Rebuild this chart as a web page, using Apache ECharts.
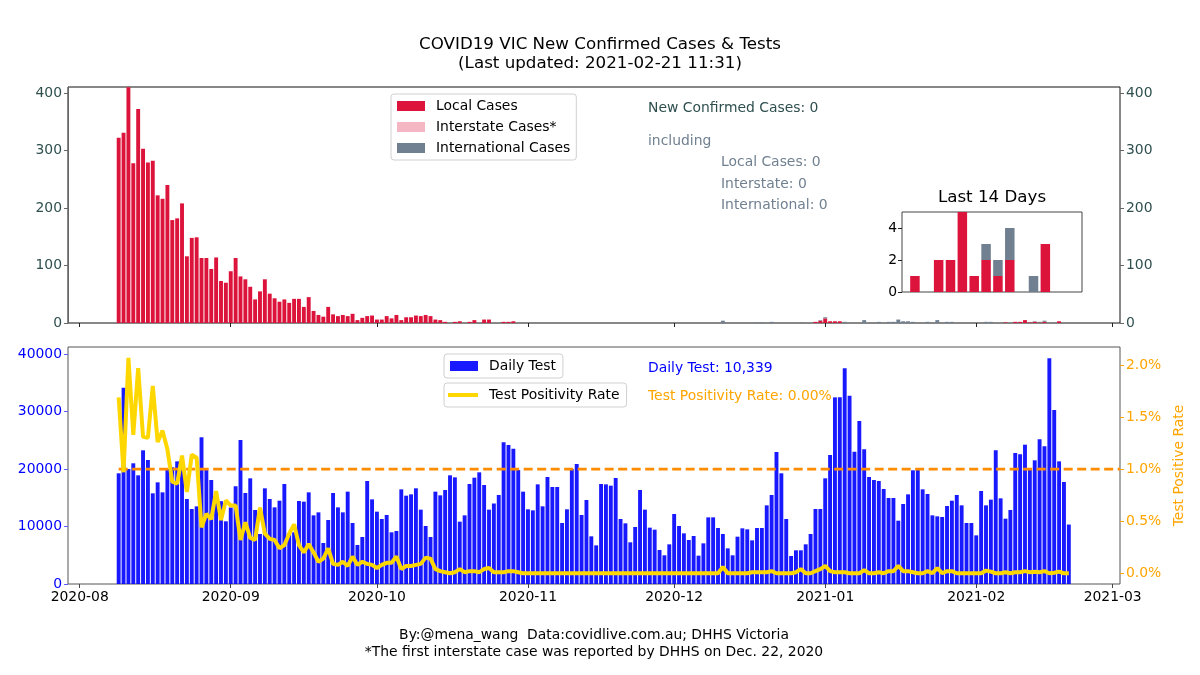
<!DOCTYPE html>
<html>
<head>
<meta charset="utf-8">
<title>COVID19 VIC New Confirmed Cases & Tests</title>
<script src="https://cdn.jsdelivr.net/npm/echarts@6/dist/echarts.min.js"></script>
<style>
  html, body { margin: 0; padding: 0; background: #fff; }
  #main { width: 1200px; height: 675px; }
</style>
</head>
<body>
<div id="main"></div>
<script>
// x 轴用“距 2020-08-01 的天数”，第一根柱子是 2020-08-09
const firstDay = 8
const monthDays = [0, 31, 61, 92, 122, 153, 184, 212]
const monthLabels = ['2020-08', '2020-09', '2020-10', '2020-11', '2020-12', '2021-01', '2021-02', '2021-03']
const caseTicks = [0, 100, 200, 300, 400]
const testTicks = [0, 10000, 20000, 30000, 40000]
const rateTicks = [0, 0.5, 1, 1.5, 2]
const insetTicks = [0, 2, 4]
const positivityThreshold = 1.0

const localCases = [
  322, 331, 410, 278, 372, 303, 279, 282, 222, 216,
  240, 179, 182, 208, 116, 148, 149, 113, 113, 94,
  114, 73, 70, 90, 113, 81, 76, 63, 41, 55,
  76, 51, 43, 37, 41, 35, 42, 42, 28, 45,
  21, 14, 11, 28, 15, 12, 14, 12, 16, 5,
  9, 12, 13, 6, 6, 12, 8, 14, 5, 10,
  10, 13, 12, 14, 12, 6, 5, 2, 0, 2,
  3, 0, 2, 5, 0, 6, 6, 0, 0, 2,
  2, 3, 0, 0, 0, 0, 0, 0, 0, 0,
  0, 0, 0, 0, 0, 0, 0, 0, 0, 0,
  0, 0, 0, 0, 0, 0, 0, 0, 0, 0,
  0, 0, 0, 0, 0, 0, 0, 0, 0, 0,
  0, 0, 0, 0, 0, 0, 0, 0, 0, 0,
  0, 0, 0, 0, 0, 0, 0, 0, 0, 0,
  0, 0, 0, 2, 4, 8, 3, 3, 3, 0,
  0, 0, 0, 0, 0, 0, 0, 0, 0, 0,
  0, 0, 0, 0, 0, 0, 0, 0, 0, 0,
  0, 0, 0, 0, 0, 0, 0, 0, 0, 0,
  0, 0, 1, 0, 2, 2, 5, 1, 2, 1,
  2, 0, 0, 3, 0, 0,
]
const interstateCases = [
  0, 0, 0, 0, 0, 0, 0, 0, 0, 0,
  0, 0, 0, 0, 0, 0, 0, 0, 0, 0,
  0, 0, 0, 0, 0, 0, 0, 0, 0, 0,
  0, 0, 0, 0, 0, 0, 0, 0, 0, 0,
  0, 0, 0, 0, 0, 0, 0, 0, 0, 0,
  0, 0, 0, 0, 0, 0, 0, 0, 0, 0,
  0, 0, 0, 0, 0, 0, 0, 0, 0, 0,
  0, 0, 0, 0, 0, 0, 0, 0, 0, 0,
  0, 0, 0, 0, 0, 0, 0, 0, 0, 0,
  0, 0, 0, 0, 0, 0, 0, 0, 0, 0,
  0, 0, 0, 0, 0, 0, 0, 0, 0, 0,
  0, 0, 0, 0, 0, 0, 0, 0, 0, 0,
  0, 0, 0, 0, 0, 0, 0, 0, 0, 0,
  0, 0, 0, 0, 0, 0, 0, 0, 0, 0,
  0, 0, 0, 0, 0, 0, 0, 0, 0, 0,
  0, 0, 0, 0, 0, 0, 0, 0, 0, 0,
  0, 0, 0, 0, 0, 0, 0, 0, 0, 0,
  0, 0, 0, 0, 0, 0, 0, 0, 0, 0,
  0, 0, 0, 0, 0, 0, 0, 0, 0, 0,
  0, 0, 0, 0, 0, 0,
]
const internationalCases = [
  0, 0, 0, 0, 0, 0, 0, 0, 0, 0,
  0, 0, 0, 0, 0, 0, 0, 0, 0, 0,
  0, 0, 0, 0, 0, 0, 0, 0, 0, 0,
  0, 0, 0, 0, 0, 0, 0, 0, 0, 0,
  0, 0, 0, 0, 0, 0, 0, 0, 0, 0,
  0, 0, 0, 0, 0, 0, 0, 0, 0, 0,
  0, 0, 0, 0, 0, 0, 0, 0, 0, 0,
  0, 0, 0, 0, 0, 0, 0, 0, 0, 0,
  0, 0, 0, 0, 0, 0, 0, 0, 0, 0,
  0, 0, 0, 0, 0, 0, 0, 0, 0, 0,
  0, 0, 0, 0, 0, 0, 0, 0, 0, 0,
  0, 0, 0, 0, 0, 0, 0, 0, 0, 0,
  0, 0, 0, 0, 4, 0, 0, 0, 0, 0,
  0, 1, 1, 0, 2, 0, 0, 0, 0, 0,
  1, 0, 0, 0, 1, 2, 0, 0, 0, 2,
  0, 0, 0, 5, 0, 0, 2, 0, 2, 2,
  6, 3, 3, 2, 0, 0, 2, 0, 5, 0,
  2, 2, 0, 0, 0, 0, 0, 0, 2, 2,
  0, 0, 0, 0, 0, 0, 0, 0, 1, 1,
  2, 0, 1, 0, 0, 0,
]
const dailyTests = [
  19250, 34150, 20000, 20990, 18900, 23250, 21570, 15770, 17680, 15940,
  20000, 20300, 21330, 20700, 14780, 13040, 13500, 25500, 19830, 18090,
  15000, 14400, 10900, 13300, 17000, 25040, 15830, 18380, 12870, 8700,
  16640, 14780, 13330, 14490, 17390, 8800, 9000, 14430, 14320, 15940,
  11940, 12460, 7130, 11130, 15830, 13330, 12460, 16060, 10610, 6780,
  8170, 17910, 14720, 12580, 11300, 12000, 8990, 9220, 16460, 15360,
  15590, 16640, 12930, 10090, 8170, 16060, 15420, 16350, 18900, 18550,
  10840, 11940, 17390, 18490, 19420, 17220, 12930, 14000, 15480, 24640,
  24170, 23540, 19830, 16060, 12990, 12810, 17330, 13510, 18610, 16870,
  16870, 10610, 12990, 20000, 20870, 12000, 14610, 8290, 6720, 17390,
  17330, 17100, 18430, 11300, 10550, 7250, 9910, 16350, 12930, 9800,
  9450, 5910, 4990, 6900, 12170, 10090, 8810, 7650, 8350, 4930,
  7070, 11590, 11590, 9740, 8700, 6200, 4990, 8230, 9680, 9510,
  7590, 9740, 9740, 13680, 15480, 22960, 19250, 11300, 4870, 5860,
  5860, 6900, 8700, 13040, 13040, 18380, 22430, 32460, 32460, 37510,
  32750, 23010, 28350, 23420, 18610, 18090, 17910, 16520, 14960, 14960,
  11010, 13910, 15590, 19770, 20120, 16460, 15650, 11940, 11770, 11650,
  13570, 14490, 15480, 13680, 10610, 10610, 8460, 16170, 13680, 14670,
  23250, 14900, 11360, 12870, 22780, 22550, 24230, 20120, 21510, 25160,
  23940, 39250, 30260, 21330, 17740, 10339,
]
// 检测阳性率 (%)
const positivityRate = [
  1.69, 0.97, 2.07, 1.33, 1.97, 1.31, 1.30, 1.80, 1.26, 1.37,
  1.19, 0.88, 0.86, 1.13, 0.78, 1.14, 1.11, 0.44, 0.57, 0.52,
  0.79, 0.51, 0.70, 0.65, 0.65, 0.32, 0.49, 0.34, 0.32, 0.63,
  0.38, 0.33, 0.32, 0.24, 0.27, 0.38, 0.47, 0.27, 0.20, 0.28,
  0.20, 0.11, 0.14, 0.24, 0.09, 0.08, 0.11, 0.07, 0.16, 0.08,
  0.11, 0.09, 0.08, 0.05, 0.08, 0.10, 0.10, 0.16, 0.04, 0.07,
  0.07, 0.08, 0.09, 0.15, 0.14, 0.04, 0.02, 0.01, 0.00, 0.01,
  0.04, 0.01, 0.02, 0.02, 0.01, 0.04, 0.05, 0.01, 0.01, 0.01,
  0.02, 0.02, 0.01, 0, 0, 0, 0, 0, 0, 0,
  0, 0, 0, 0, 0, 0, 0, 0, 0, 0,
  0, 0, 0, 0, 0, 0, 0, 0, 0, 0,
  0, 0, 0, 0, 0, 0, 0, 0, 0, 0,
  0, 0, 0, 0, 0.06, 0, 0, 0, 0, 0,
  0.01, 0.01, 0.01, 0.01, 0.02, 0, 0, 0, 0, 0.01,
  0.04, 0, 0, 0.02, 0.04, 0.07, 0.02, 0.01, 0.01, 0.01,
  0, 0, 0, 0.03, 0, 0, 0.01, 0, 0.02, 0.02,
  0.07, 0.02, 0.02, 0.01, 0, 0, 0.02, 0, 0.05, 0,
  0.02, 0.02, 0, 0, 0, 0, 0, 0, 0.025, 0.015,
  0, 0, 0.01, 0, 0.01, 0.01, 0.02, 0.01, 0.015, 0.01,
  0.02, 0, 0.005, 0.015, 0, 0,
]

const FONT = 'DejaVu Sans'
const xMin = -2.4
const xMax = 213.5
const last = localCases.length - 1

const toPairs = (arr) => arr.map((v, i) => [firstDay + i, v])
// 堆叠柱子：把数值放在第 0 维，ECharts 才会在 y 上堆叠（x 是 value 轴）
const toStackPairs = (arr) => arr.map((v, i) => [v, firstDay + i])
const recentStack = (arr) => arr.slice(-14).map((v, i) => [v, i])
const stackEncode = {x: 1, y: 0}
const monthFormatter = (v) => {
  const idx = monthDays.indexOf(v)
  return idx >= 0 ? monthLabels[idx] : ''
}

const chart = echarts.init(document.getElementById('main'), null, {renderer: 'canvas'})

const totalNew = localCases[last] + interstateCases[last] + internationalCases[last]
const textFont = '13.9px "DejaVu Sans"'

chart.setOption({
  animation: false,
  backgroundColor: '#ffffff',
  textStyle: {fontFamily: FONT},
  title: {
    text: 'COVID19 VIC New Confirmed Cases & Tests\n(Last updated: 2021-02-21 11:31)',
    left: 'center',
    top: 30,
    textStyle: {fontFamily: FONT, fontSize: 16.7, fontWeight: 'normal', color: '#000', lineHeight: 19},
  },
  legend: [
    {
      data: ['Local Cases', 'Interstate Cases*', 'International Cases'],
      orient: 'vertical',
      left: 391,
      top: 94,
      icon: 'rect',
      itemWidth: 28,
      itemHeight: 10,
      itemGap: 5,
      padding: [4, 6, 4, 6],
      borderColor: '#d0d0d0',
      borderWidth: 1,
      borderRadius: 3,
      textStyle: {fontFamily: FONT, fontSize: 13.9, color: '#000', lineHeight: 16, padding: [0, 0, 0, 6]},
    },
    {
      data: ['Daily Test'],
      left: 444,
      top: 354,
      icon: 'rect',
      itemWidth: 28,
      itemHeight: 10,
      padding: [5, 7, 5, 6],
      borderColor: '#d0d0d0',
      borderWidth: 1,
      borderRadius: 3,
      textStyle: {fontFamily: FONT, fontSize: 13.9, color: '#000', padding: [0, 0, 0, 6]},
    },
    {
      data: [{name: 'Test Positivity Rate', icon: 'rect'}],
      left: 444,
      top: 383,
      itemWidth: 30,
      itemHeight: 4,
      padding: [5, 7, 5, 4],
      borderColor: '#d0d0d0',
      borderWidth: 1,
      borderRadius: 3,
      textStyle: {fontFamily: FONT, fontSize: 13.9, color: '#000', padding: [0, 0, 0, 6]},
    },
  ],
  grid: [
    {left: 68, top: 87, width: 1052, height: 236, show: true, borderColor: '#111', borderWidth: 1},
    {left: 68, top: 347, width: 1052, height: 237, show: true, borderColor: '#555', borderWidth: 1},
    {left: 902, top: 212, width: 180, height: 80, show: true, borderColor: '#444', borderWidth: 1},
  ],
  xAxis: [
    {
      gridIndex: 0,
      type: 'value',
      min: xMin,
      max: xMax,
      axisLine: {show: false, onZero: false},
      axisTick: {show: true, customValues: monthDays, length: 4, lineStyle: {color: '#222'}},
      axisLabel: {show: false},
      splitLine: {show: false},
    },
    {
      gridIndex: 1,
      type: 'value',
      min: xMin,
      max: xMax,
      axisLine: {show: false, onZero: false},
      axisTick: {show: true, customValues: monthDays, length: 4, lineStyle: {color: '#444'}},
      axisLabel: {
        customValues: monthDays,
        formatter: monthFormatter,
        fontFamily: FONT,
        fontSize: 13.9,
        color: '#000',
        margin: 6,
      },
      splitLine: {show: false},
    },
    {
      gridIndex: 2,
      type: 'value',
      min: -1.09,
      max: 14.09,
      axisLine: {show: false, onZero: false},
      axisTick: {show: false},
      axisLabel: {show: false},
      splitLine: {show: false},
    },
  ],
  yAxis: [
    {
      gridIndex: 0,
      type: 'value',
      position: 'left',
      min: 0,
      max: 410.4,
      axisLine: {show: true, onZero: false, lineStyle: {color: '#666'}},
      axisTick: {show: true, customValues: caseTicks, length: 4, lineStyle: {color: '#666'}},
      axisLabel: {customValues: caseTicks, fontFamily: FONT, fontSize: 13.9, color: '#2f4f4f', margin: 6},
      splitLine: {show: false},
    },
    {
      gridIndex: 0,
      type: 'value',
      position: 'right',
      min: 0,
      max: 410.4,
      axisLine: {show: false, onZero: false},
      axisTick: {show: true, customValues: caseTicks, length: 4, lineStyle: {color: '#666'}},
      axisLabel: {customValues: caseTicks, fontFamily: FONT, fontSize: 13.9, color: '#2f4f4f', margin: 6},
      splitLine: {show: false},
    },
    {
      gridIndex: 1,
      type: 'value',
      position: 'left',
      min: 0,
      max: 41217,
      axisLine: {show: false, onZero: false},
      axisTick: {show: true, customValues: testTicks, length: 4, lineStyle: {color: '#5b5bff'}},
      axisLabel: {
        customValues: testTicks,
        formatter: (v) => String(v),
        fontFamily: FONT,
        fontSize: 13.9,
        color: '#0000ff',
        margin: 6,
      },
      splitLine: {show: false},
    },
    {
      gridIndex: 1,
      type: 'value',
      position: 'right',
      min: -0.1035,
      max: 2.1735,
      name: 'Test Positive Rate',
      nameLocation: 'middle',
      nameRotate: 90,
      nameGap: 50,
      nameTextStyle: {fontFamily: FONT, fontSize: 13.9, color: '#ffa500'},
      axisLine: {show: false, onZero: false},
      axisTick: {show: true, customValues: rateTicks, length: 4, lineStyle: {color: '#ffa500'}},
      axisLabel: {
        customValues: rateTicks,
        formatter: (v) => v.toFixed(1) + '%',
        fontFamily: FONT,
        fontSize: 13.9,
        color: '#ffa500',
        margin: 6,
      },
      splitLine: {show: false},
    },
    {
      gridIndex: 2,
      type: 'value',
      position: 'left',
      min: 0,
      max: 5,
      axisLine: {show: false, onZero: false},
      axisTick: {show: true, customValues: insetTicks, length: 4, lineStyle: {color: '#222'}},
      axisLabel: {customValues: insetTicks, fontFamily: FONT, fontSize: 13.9, color: '#000', margin: 5},
      splitLine: {show: false},
    },
  ],
  series: [
    // 上图：新增病例（堆叠）
    {
      name: 'Local Cases',
      type: 'bar',
      xAxisIndex: 0,
      yAxisIndex: 0,
      stack: 'cases',
      barWidth: 3.9,
      encode: stackEncode,
      itemStyle: {color: '#dc143c'},
      data: toStackPairs(localCases),
    },
    {
      name: 'Interstate Cases*',
      type: 'bar',
      xAxisIndex: 0,
      yAxisIndex: 0,
      stack: 'cases',
      barWidth: 3.9,
      encode: stackEncode,
      itemStyle: {color: '#f4b6c2'},
      data: toStackPairs(interstateCases),
    },
    {
      name: 'International Cases',
      type: 'bar',
      xAxisIndex: 0,
      yAxisIndex: 0,
      stack: 'cases',
      barWidth: 3.9,
      encode: stackEncode,
      itemStyle: {color: '#708090'},
      data: toStackPairs(internationalCases),
    },
    // 右上小图：最近 14 天
    {
      name: 'Local Cases',
      type: 'bar',
      xAxisIndex: 2,
      yAxisIndex: 4,
      stack: 'recent',
      barWidth: 9.5,
      encode: stackEncode,
      itemStyle: {color: '#dc143c'},
      data: recentStack(localCases),
    },
    {
      name: 'Interstate Cases*',
      type: 'bar',
      xAxisIndex: 2,
      yAxisIndex: 4,
      stack: 'recent',
      barWidth: 9.5,
      encode: stackEncode,
      itemStyle: {color: '#f4b6c2'},
      data: recentStack(interstateCases),
    },
    {
      name: 'International Cases',
      type: 'bar',
      xAxisIndex: 2,
      yAxisIndex: 4,
      stack: 'recent',
      barWidth: 9.5,
      encode: stackEncode,
      itemStyle: {color: '#708090'},
      data: recentStack(internationalCases),
    },
    // 下图：检测数与阳性率
    {
      name: 'Daily Test',
      type: 'bar',
      xAxisIndex: 1,
      yAxisIndex: 2,
      barWidth: 3.9,
      itemStyle: {color: 'rgba(0, 0, 255, 0.9)'},
      data: toPairs(dailyTests),
      z: 2,
    },
    {
      name: 'threshold',
      type: 'line',
      xAxisIndex: 1,
      yAxisIndex: 3,
      symbol: 'none',
      lineStyle: {color: '#ff8c00', width: 2.6, type: [9, 4.5]},
      data: [[firstDay, positivityThreshold], [xMax, positivityThreshold]],
      z: 3,
    },
    {
      name: 'Test Positivity Rate',
      type: 'line',
      xAxisIndex: 1,
      yAxisIndex: 3,
      symbol: 'none',
      itemStyle: {color: '#ffd700'},
      lineStyle: {color: '#ffd700', width: 4},
      data: toPairs(positivityRate),
      z: 4,
    },
  ],
  graphic: [
    {type: 'text', x: 992, y: 198, style: {text: 'Last 14 Days', fill: '#000', font: '16.7px "DejaVu Sans"', align: 'center', verticalAlign: 'middle'}},
    {type: 'text', x: 648, y: 108, style: {text: 'New Confirmed Cases: ' + totalNew, fill: '#2f4f4f', font: textFont, verticalAlign: 'middle'}},
    {type: 'text', x: 648, y: 141, style: {text: 'including', fill: '#708090', font: textFont, verticalAlign: 'middle'}},
    {type: 'text', x: 721, y: 162, style: {text: 'Local Cases: ' + localCases[last], fill: '#708090', font: textFont, verticalAlign: 'middle'}},
    {type: 'text', x: 721, y: 184, style: {text: 'Interstate: ' + interstateCases[last], fill: '#708090', font: textFont, verticalAlign: 'middle'}},
    {type: 'text', x: 721, y: 205, style: {text: 'International: ' + internationalCases[last], fill: '#708090', font: textFont, verticalAlign: 'middle'}},
    {type: 'text', x: 648, y: 368, style: {text: 'Daily Test: ' + dailyTests[last].toLocaleString('en-US'), fill: '#0000ff', font: textFont, verticalAlign: 'middle'}},
    {type: 'text', x: 648, y: 396, style: {text: 'Test Positivity Rate: ' + positivityRate[last].toFixed(2) + '%', fill: '#ffa500', font: textFont, verticalAlign: 'middle'}},
    {type: 'text', x: 594, y: 635, style: {text: 'By:@mena_wang  Data:covidlive.com.au; DHHS Victoria', fill: '#000', font: textFont, align: 'center', verticalAlign: 'middle'}},
    {type: 'text', x: 594, y: 652, style: {text: '*The first interstate case was reported by DHHS on Dec. 22, 2020', fill: '#000', font: textFont, align: 'center', verticalAlign: 'middle'}},
  ],
})
</script>
</body>
</html>
